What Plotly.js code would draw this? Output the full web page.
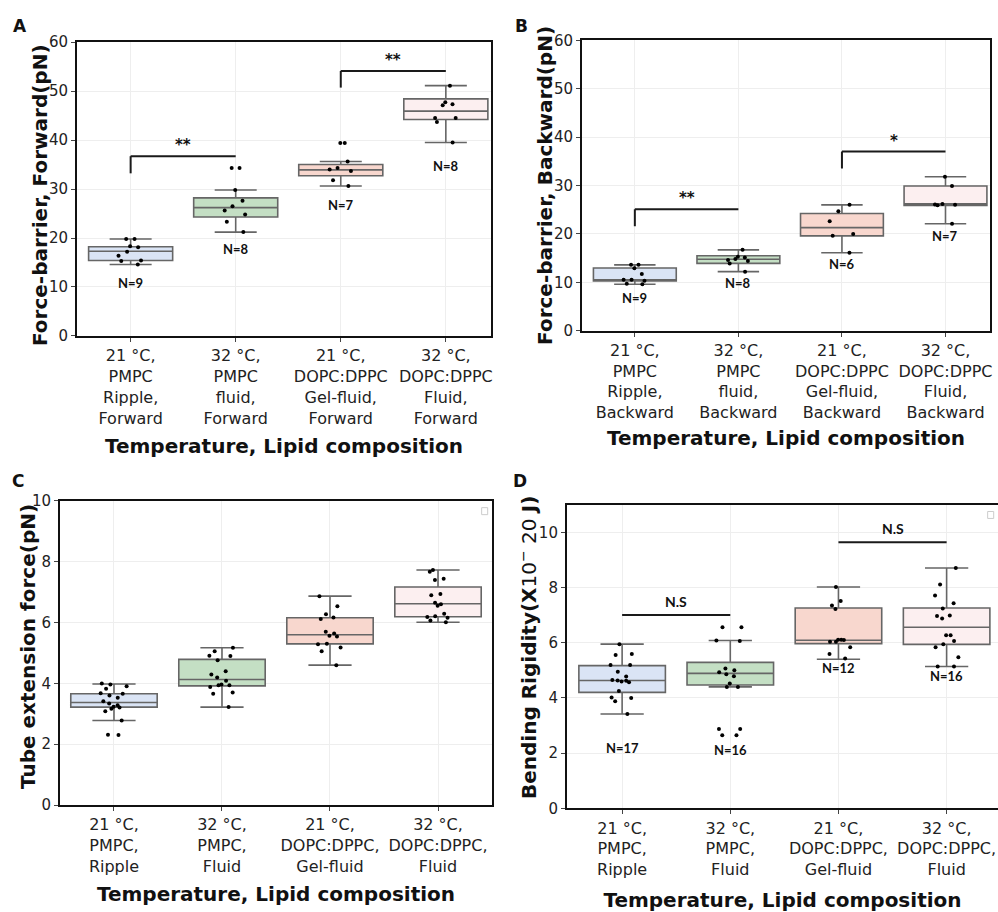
<!DOCTYPE html>
<html><head><meta charset="utf-8">
<script src="https://cdn.plot.ly/plotly-3.0.1.min.js"></script>
<style>html,body{margin:0;padding:0;background:#fff}#chart{width:998px;height:912px}</style>
</head><body><div id="chart"></div>
<script>
// ---------- categories ----------
const catsA = ["21 °C,<br>PMPC<br>Ripple,<br>Forward", "32 °C,<br>PMPC<br>fluid,<br>Forward", "21 °C,<br>DOPC:DPPC<br>Gel-fluid,<br>Forward", "32 °C,<br>DOPC:DPPC<br>Fluid,<br>Forward"];
const catsB = ["21 °C,<br>PMPC<br>Ripple,<br>Backward", "32 °C,<br>PMPC<br>fluid,<br>Backward", "21 °C,<br>DOPC:DPPC<br>Gel-fluid,<br>Backward", "32 °C,<br>DOPC:DPPC<br>Fluid,<br>Backward"];
const catsCD = ["21 °C,<br>PMPC,<br>Ripple", "32 °C,<br>PMPC,<br>Fluid", "21 °C,<br>DOPC:DPPC,<br>Gel-fluid", "32 °C,<br>DOPC:DPPC,<br>Fluid"];

// ---------- axis titles ----------
const xTitle = "<b>Temperature, Lipid composition</b>";
const yTitleA = "<b>Force-barrier, Forward(pN)</b>";
const yTitleB = "<b>Force-barrier, Backward(pN)</b>";
const yTitleC = "<b>Tube extension force(pN)</b>";
const yTitleD = "<b>Bending Rigidity(X</b>10<sup>−</sup> 20 <b>J)</b>";

// ---------- box statistics ----------
const lowerA = [14.6, 21.2, 30.6, 39.5];
const q1A    = [15.4, 24.3, 32.7, 44.2];
const medA   = [17.3, 26.2, 33.9, 45.9];
const q3A    = [18.2, 28.2, 35.0, 48.4];
const upperA = [19.8, 29.8, 35.6, 51.1];

const lowerB = [9.6, 12.2, 16.1, 22.1];
const q1B    = [10.3, 13.9, 19.6, 25.9];
const medB   = [10.5, 14.75, 21.3, 26.2];
const q3B    = [12.95, 15.5, 24.2, 29.9];
const upperB = [13.6, 16.7, 26.0, 31.8];

const lowerC = [2.78, 3.22, 4.60, 6.01];
const q1C    = [3.22, 3.92, 5.30, 6.19];
const medC   = [3.37, 4.13, 5.60, 6.62];
const q3C    = [3.66, 4.79, 6.16, 7.17];
const upperC = [3.98, 5.17, 6.87, 7.73];

const lowerD = [3.42, 4.40, 5.40, 5.14];
const q1D    = [4.20, 4.47, 5.97, 5.94];
const medD   = [4.63, 4.89, 6.09, 6.56];
const q3D    = [5.17, 5.29, 7.26, 7.26];
const upperD = [5.95, 6.08, 8.02, 8.71];

// ---------- individual measurements ----------
const ptsA1 = [19.8, 19.8, 18.3, 18.1, 17.2, 16.4, 15.4, 15.3, 14.6];
const ptsA2 = [34.3, 34.3, 29.8, 27.6, 26.5, 25.6, 24.8, 23.3, 21.2];
const ptsA3 = [39.4, 39.4, 35.6, 34.3, 34.0, 33.7, 31.8, 30.6];
const ptsA4 = [51.1, 47.7, 47.3, 47.1, 44.5, 44.5, 43.7, 39.5];

const ptsB1 = [13.6, 13.6, 12.9, 11.7, 10.5, 10.5, 10.3, 9.7, 9.6];
const ptsB2 = [16.7, 15.3, 15.1, 14.8, 14.6, 14.4, 13.9, 12.2];
const ptsB3 = [26.0, 24.7, 22.6, 20.0, 19.6, 16.1];
const ptsB4 = [31.8, 29.9, 26.2, 26.1, 26.0, 25.9, 22.1];

const ptsC1 = [4.00, 3.96, 3.91, 3.82, 3.68, 3.66, 3.60, 3.53, 3.41, 3.34, 3.28, 3.23, 3.21, 3.17, 3.08, 2.78, 2.31, 2.30];
const ptsC2 = [5.17, 5.06, 4.91, 4.90, 4.76, 4.40, 4.29, 4.19, 4.09, 3.96, 3.94, 3.94, 3.88, 3.70, 3.66, 3.22];
const ptsC3 = [6.87, 6.54, 6.27, 6.17, 6.12, 5.70, 5.64, 5.57, 5.54, 5.30, 5.29, 5.18, 5.06, 4.60];
const ptsC4 = [7.73, 7.67, 7.44, 7.40, 6.94, 6.90, 6.65, 6.60, 6.55, 6.29, 6.21, 6.18, 6.16, 6.07, 6.01];

const ptsD1 = [5.95, 5.59, 5.56, 5.19, 5.19, 4.95, 4.78, 4.65, 4.63, 4.62, 4.60, 4.57, 4.25, 4.02, 4.00, 3.88, 3.42];
const ptsD2 = [6.56, 6.56, 6.08, 6.06, 5.07, 5.00, 4.93, 4.86, 4.79, 4.52, 4.40, 4.40, 2.87, 2.87, 2.65, 2.65];
const ptsD3 = [8.02, 7.51, 7.35, 7.22, 6.11, 6.11, 6.10, 6.04, 6.04, 5.84, 5.59, 5.43];
const ptsD4 = [8.71, 8.11, 7.71, 7.43, 7.24, 6.99, 6.97, 6.88, 6.27, 6.27, 6.06, 5.95, 5.84, 5.47, 5.14, 5.14];

// ---------- N labels ----------
const nLabA = ["N=9", "N=8", "N=7", "N=8"];
const nPosA = [10.9, 17.7, 26.7, 34.7];
const nLabB = ["N=9", "N=8", "N=6", "N=7"];
const nPosB = [6.7, 9.8, 13.7, 19.6];
const nLabD = ["N=17", "N=16", "N=12", "N=16"];
const nPosD = [2.19, 2.1, 5.1, 4.78];

// ---------- significance brackets ----------
const sigA = [{from: 0, to: 1, base: 33.2, top: 36.7, label: "**"}, {from: 2, to: 3, base: 50.7, top: 54.1, label: "**"}];
const sigB = [{from: 0, to: 1, base: 21.6, top: 25.1, label: "**"}, {from: 2, to: 3, base: 33.5, top: 37.0, label: "*"}];
const sigD = [{from: 0, to: 1, base: null, top: 7.01, label: "N.S"}, {from: 2, to: 3, base: null, top: 9.64, label: "N.S"}];

// ---------- styling ----------
const fills = ["rgb(218,228,245)", "rgb(196,223,196)", "rgb(248,215,206)", "rgb(252,239,240)"];
const edge = "#666666";
const FONT = "DejaVu Sans";

const traces = [];
const shapes = [];
const annotations = [];

function addPanel(xa, ya, cats, lo, q1, med, q3, hi, pts) {
  for (let i = 0; i < cats.length; i++) {
    traces.push({
      type: "box", xaxis: xa, yaxis: ya, x: [cats[i]],
      q1: [q1[i]], median: [med[i]], q3: [q3[i]], lowerfence: [lo[i]], upperfence: [hi[i]],
      fillcolor: fills[i], line: {color: edge, width: 1.6}, width: 0.8, whiskerwidth: 0.5,
      boxpoints: false, showlegend: false, hoverinfo: "skip"
    });
    traces.push({
      type: "box", xaxis: xa, yaxis: ya, x: pts[i].map(() => cats[i]), y: pts[i],
      boxpoints: "all", jitter: 0.35, pointpos: 0, width: 0.8, whiskerwidth: 0,
      marker: {color: "#000", size: 4}, line: {color: "rgba(0,0,0,0)", width: 0},
      fillcolor: "rgba(0,0,0,0)", showlegend: false, hoveron: "points"
    });
  }
}
addPanel("x", "y", catsA, lowerA, q1A, medA, q3A, upperA, [ptsA1, ptsA2, ptsA3, ptsA4]);
addPanel("x2", "y2", catsB, lowerB, q1B, medB, q3B, upperB, [ptsB1, ptsB2, ptsB3, ptsB4]);
addPanel("x3", "y3", catsCD, lowerC, q1C, medC, q3C, upperC, [ptsC1, ptsC2, ptsC3, ptsC4]);
addPanel("x4", "y4", catsCD, lowerD, q1D, medD, q3D, upperD, [ptsD1, ptsD2, ptsD3, ptsD4]);

function addSig(xr, yr, sig, shift, fam, size) {
  sig.forEach(s => {
    if (s.base !== null) {
      shapes.push({type: "line", xref: xr, yref: yr, x0: s.from, x1: s.from, y0: s.base, y1: s.top, line: {color: "#1a1a1a", width: 2}});
    }
    shapes.push({type: "line", xref: xr, yref: yr, x0: s.from, x1: s.to, y0: s.top, y1: s.top, line: {color: "#1a1a1a", width: 2}});
    annotations.push({xref: xr, yref: yr, x: (s.from + s.to) / 2, y: s.top, xanchor: "center", yanchor: "bottom", yshift: shift,
      text: "<b>" + s.label + "</b>", showarrow: false, font: {family: fam, size: size, color: "#111"}});
  });
}
addSig("x", "y", sigA, 0, FONT, 15);
addSig("x2", "y2", sigB, 0, FONT, 15);
addSig("x4", "y4", sigD, 3, "Lato", 14);

function addN(xr, yr, labs, pos) {
  labs.forEach((t, i) => annotations.push({xref: xr, yref: yr, x: i, y: pos[i], xanchor: "center", yanchor: "middle",
    text: "<b>" + t + "</b>", showarrow: false, font: {family: "Lato", size: 13, color: "#111"}}));
}
addN("x", "y", nLabA, nPosA);
addN("x2", "y2", nLabB, nPosB);
addN("x4", "y4", nLabD, nPosD);

// panel letters
[["A", 0.020, 0.9715], ["B", 0.523, 0.9715], ["C", 0.018, 0.4726], ["D", 0.521, 0.4726]].forEach(p => {
  annotations.push({xref: "paper", yref: "paper", x: p[1], y: p[2], xanchor: "center", yanchor: "middle",
    text: "<b>" + p[0] + "</b>", showarrow: false, font: {family: FONT, size: 17, color: "#111"}});
});

// y-axis titles (rotated text, placed beside each panel)
[[yTitleA, 0.0401, 0.7862], [yTitleB, 0.5461, 0.7961], [yTitleC, 0.0281, 0.2906], [yTitleD, 0.5291, 0.2895]].forEach(p => {
  annotations.push({xref: "paper", yref: "paper", x: p[1], y: p[2], xanchor: "center", yanchor: "middle", textangle: -90,
    text: p[0], showarrow: false, font: {family: FONT, size: 20, color: "#111"}});
});

// empty legend boxes in C and D
[["x3 domain", "y3 domain"], ["x4 domain", "y4 domain"]].forEach(r => {
  shapes.push({type: "rect", xref: r[0], yref: r[1], x0: 0.976, x1: 0.99, y0: 0.955, y1: 0.978, line: {color: "#cccccc", width: 1}, fillcolor: "rgba(0,0,0,0)"});
});

function xax(domain, anchor, range, cats, standoff) {
  return {domain: domain, anchor: anchor, range: range, type: "category", categoryorder: "array", categoryarray: cats,
    showline: true, mirror: true, linecolor: "#111", linewidth: 2, ticks: "outside", ticklen: 4, tickcolor: "#444",
    showgrid: true, gridcolor: "#eeeeee", zeroline: false, automargin: false,
    tickfont: {family: FONT, size: 16, color: "#222"},
    title: {text: xTitle, font: {family: FONT, size: 20, color: "#111"}, standoff: standoff}};
}
function yax(domain, anchor, range, dtick) {
  return {domain: domain, anchor: anchor, range: range, dtick: dtick, tick0: 0,
    showline: true, mirror: true, linecolor: "#111", linewidth: 2, ticks: "outside", ticklen: 4, tickcolor: "#444",
    showgrid: true, gridcolor: "#eeeeee", zeroline: false, automargin: false,
    tickfont: {family: FONT, size: 15, color: "#222"}};
}

const layout = {
  width: 998, height: 912, margin: {l: 0, r: 0, t: 0, b: 0},
  paper_bgcolor: "#fff", plot_bgcolor: "#fff", showlegend: false, boxmode: "overlay",
  xaxis:  xax([0.0772, 0.4920], "y",  [-0.51, 3.43], catsA, 12),
  yaxis:  yax([0.6316, 0.9539], "x",  [0, 60], 10),
  xaxis2: xax([0.5832, 0.9920], "y2", [-0.51, 3.43], catsB, 10),
  yaxis2: yax([0.6374, 0.9558], "x2", [0, 60], 10),
  xaxis3: xax([0.0601, 0.4930], "y3", [-0.5, 3.5], catsCD, 12),
  yaxis3: yax([0.1173, 0.4507], "x3", [0, 10], 2),
  xaxis4: xax([0.5681, 1.0], "y4", [-0.51, 3.475], catsCD, 16),
  yaxis4: yax([0.1137, 0.4465], "x4", [0, 11], 2),
  shapes: shapes, annotations: annotations
};

Plotly.newPlot("chart", traces, layout, {displayModeBar: false, staticPlot: true});
</script></body></html>
